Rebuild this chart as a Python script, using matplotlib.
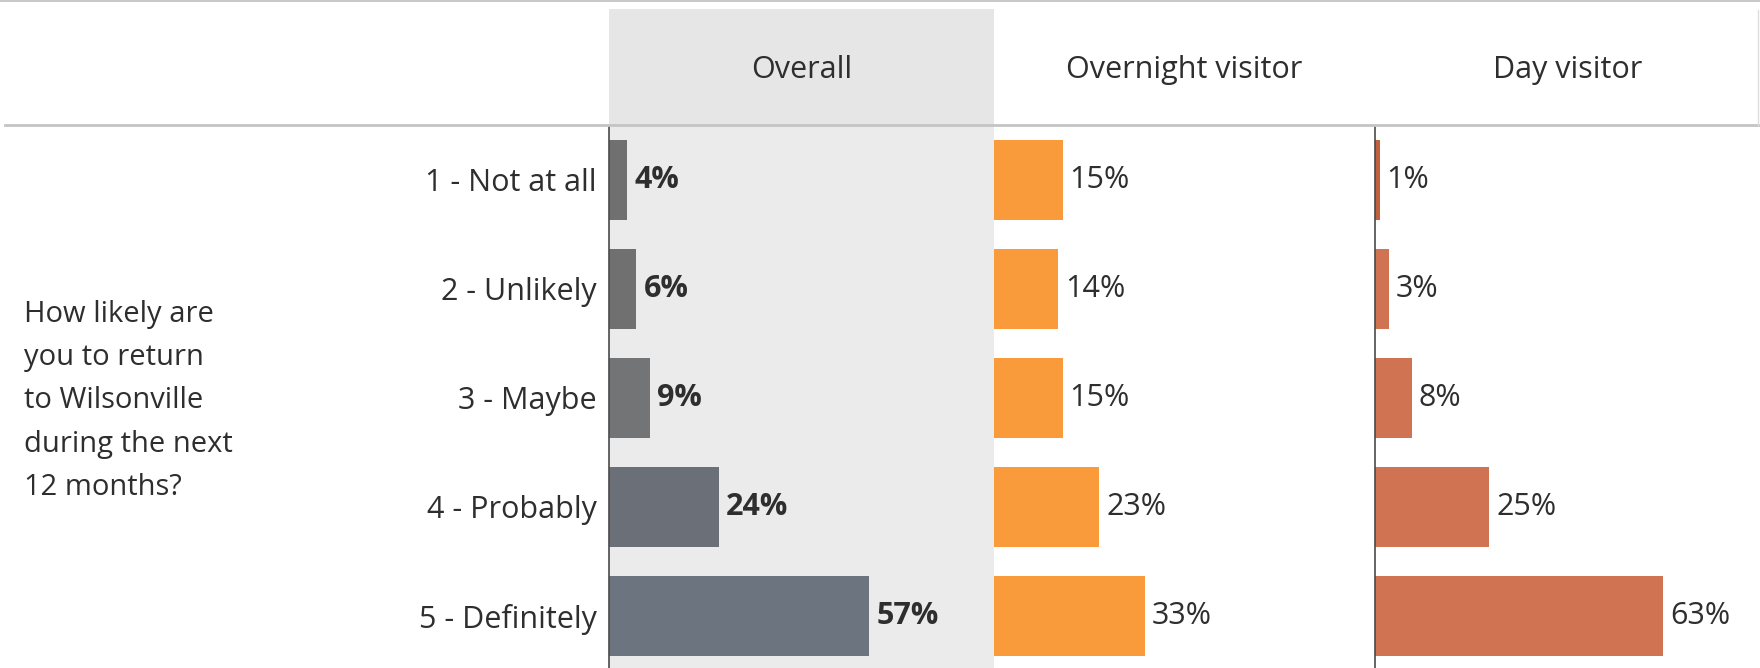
import matplotlib
matplotlib.use("Agg")
import matplotlib.pyplot as plt
from matplotlib.patches import Rectangle
from matplotlib.lines import Line2D

plt.rcParams["font.family"] = ["Open Sans", "DejaVu Sans"]

# data
answers = ["1 - Not at all", "2 - Unlikely", "3 - Maybe", "4 - Probably", "5 - Definitely"]
overall = [4, 6, 9, 24, 57]
overnight = [15, 14, 15, 23, 33]
day = [1, 3, 8, 25, 63]
headers = ["Overall", "Overnight visitor", "Day visitor"]
question = "How likely are\nyou to return\nto Wilsonville\nduring the next\n12 months?"

W, H = 1760, 668
TEXT = "#2e2e2e"
FS = 22
overall_colors = ["#707070", "#707071", "#737475", "#6b6f77", "#6c7480"]
overnight_color = "#f99b3a"
day_color = "#d07352"
day_first_color = "#c0603f"


def fx(x):
    return x / W


def fy(y):
    return 1 - y / H


fig = plt.figure(figsize=(W / 100, H / 100), dpi=100)

# panel geometry in pixels
panel_left = [609, 994, 1375]
panel_right = [994, 1375, 1760]
header_bottom = 126
px_per_pct = 4.57
row_px = 109

# header area
fig.add_artist(Line2D([0, 1], [fy(1), fy(1)], color="#bdbdbd", lw=1.2))
fig.add_artist(Rectangle((fx(609), fy(header_bottom)), fx(385), (header_bottom - 9) / H,
                         facecolor="#e6e6e6", edgecolor="none"))
fig.add_artist(Line2D([fx(5), 1], [fy(125), fy(125)], color="#c4c4c4", lw=2))
fig.add_artist(Line2D([fx(1758), fx(1758)], [fy(10), fy(125)], color="#dddddd", lw=1))

for name, l, r in zip(headers, panel_left, panel_right):
    fig.text(fx((l + r) / 2), fy(70), name, ha="center", va="center",
             fontsize=FS, color=TEXT)

fig.text(fx(24), fy(401), question, ha="left", va="center", fontsize=21,
         color=TEXT, linespacing=1.65)

series = [overall, overnight, day]
for i, (vals, l, r) in enumerate(zip(series, panel_left, panel_right)):
    ax = fig.add_axes([fx(l), 0, fx(r - l), (H - header_bottom) / H])
    top = -0.5 + 0.005
    ax.set_ylim(top + (H - header_bottom) / row_px, top)
    ax.set_xlim(0, (r - l) / px_per_pct)
    for s in ax.spines.values():
        s.set_visible(False)
    ax.set_xticks([])
    ax.tick_params(axis="y", length=0)
    if i == 0:
        ax.set_facecolor("#ebebeb")
        colors = overall_colors
        weight = "bold"
    elif i == 1:
        ax.set_facecolor("none")
        colors = [overnight_color] * len(vals)
        weight = "normal"
    else:
        ax.set_facecolor("none")
        colors = [day_first_color] + [day_color] * (len(vals) - 1)
        weight = "normal"
    if i != 1:
        ax.spines["left"].set_visible(True)
        ax.spines["left"].set_color("#4a4a4a")
        ax.spines["left"].set_linewidth(1.2)
    ypos = list(range(len(vals)))
    ax.barh(ypos, vals, height=0.73, color=colors, zorder=2)
    for y, v in zip(ypos, vals):
        ax.annotate(f"{v}%", (v, y), xytext=(7, 0), textcoords="offset pixels",
                    ha="left", va="center", fontsize=FS, color=TEXT,
                    fontweight=weight)
    if i == 0:
        ax.set_yticks(ypos)
        ax.set_yticklabels(answers, fontsize=FS, color=TEXT)
        ax.tick_params(axis="y", pad=9)
    else:
        ax.set_yticks([])

fig.savefig("out.png", dpi=100, facecolor="white")
